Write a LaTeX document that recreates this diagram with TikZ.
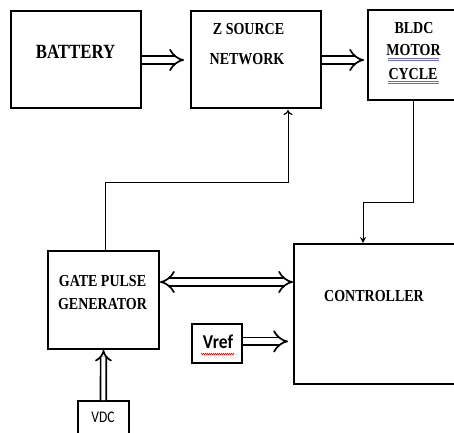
\documentclass[tikz,border=0pt]{standalone}
\usepackage{graphicx}
\usepackage{fontspec}
\setmainfont{Liberation Serif}
\newfontfamily\calib{Carlito}
\usetikzlibrary{arrows.meta,decorations.pathmorphing}
\tikzset{
 box/.style={draw, line width=2pt, anchor=north west, inner sep=0pt},
 lbl/.style={font=\bfseries\fontsize{14}{14}\selectfont, inner sep=0pt},
 conn/.style={line width=1pt},
 fat/.style={line width=1.7pt, double distance=6pt, -{Implies}},
 uline/.style={draw=blue!45!gray!80, line width=0.6pt},
}
\newcommand\vstr[1]{\scalebox{1}[1.2]{#1}}
\begin{document}
\begin{tikzpicture}[x=1pt,y=-1pt]
\clip (0,0) rectangle (454,432);
% boxes
\node[box,minimum width=130pt,minimum height=97pt] (bat) at (10,10) {};
\node[box,minimum width=130pt,minimum height=97pt] (zsrc) at (190,10) {};
\node[box,minimum width=100pt,minimum height=90pt] (bldc) at (367,9) {};
\node[box,minimum width=111pt,minimum height=98pt] (gate) at (47,250) {};
\node[box,minimum width=170pt,minimum height=140pt] (ctrl) at (293,243) {};
\node[box,line width=1.8pt,minimum width=50pt,minimum height=39pt] (vref) at (191,323) {};
\node[box,line width=1.8pt,minimum width=51pt,minimum height=50pt] (vdc) at (77,400) {};
% texts
\node[lbl,font=\bfseries\fontsize{16.8}{16.8}\selectfont] (batT) at (75.5,52) {\vstr{BATTERY}};
\node[lbl] (zT1) at (248.5,29.5) {\vstr{Z SOURCE}};
\node[lbl] (zT2) at (247,59) {\vstr{NETWORK}};
\node[lbl] (bT1) at (414,28) {\vstr{BLDC}};
\node[lbl] (bT2) at (413.5,50) {\vstr{MOTOR}};
\node[lbl] (bT3) at (413,74) {\vstr{CYCLE}};
\node[lbl] (gT1) at (102.5,281) {\vstr{GATE PULSE}};
\node[lbl] (gT2) at (102.5,304.5) {\vstr{GENERATOR}};
\node[lbl] (cT) at (374,296.5) {\vstr{CONTROLLER}};
\node[inner sep=0pt,font=\calib\bfseries\fontsize{17.5}{17.5}\selectfont] (vrefT) at (218,342) {\scalebox{1}[1.12]{Vref}};
\node[inner sep=0pt,font=\calib\fontsize{13.5}{13.5}\selectfont] (vdcT) at (103,417.5) {\vstr{VDC}};
% spell-check underlines
\draw[uline] (388,58.5) -- (439,58.5);
\draw[uline] (388,60.7) -- (439,60.7);
\draw[uline] (388,81) -- (439,81);
\draw[uline] (388,83.2) -- (439,83.2);
\draw[red, line width=0.5pt, decorate, decoration={zigzag, amplitude=0.7pt, segment length=2pt}] (201,354) -- (234,354);
% fat arrows
\coordinate (a) at (0,60);
\draw[fat, shorten >=6pt] (bat.east |- a) -- (zsrc.west |- a);
\draw[fat, shorten >=3pt] (zsrc.east |- a) -- (bldc.west |- a);
\coordinate (m) at (0,282);
\draw[fat, {Implies}-{Implies}] (gate.east |- m) -- (ctrl.west |- m);
\draw[fat, shorten >=5pt] ([yshift=2pt]vref.east) -- ([yshift=2pt]ctrl.west |- vref.east);
\draw[fat, double distance=4pt] (vdc.north) -- (gate.south);
% thin connectors
\coordinate (t0) at (105,182);
\coordinate (t1) at (288,182);
\draw[conn,-{To[length=5pt,width=9pt,line width=1.2pt]}] (t0 |- gate.north) -- (t0) -- (t1) -- ([yshift=-1pt]t1 |- zsrc.south);
\coordinate (b0) at (413,202);
\coordinate (b1) at (363,202);
\draw[conn,-{Stealth[length=6pt,width=6pt]}] (b0 |- bldc.south) -- (b0) -- (b1) -- (b1 |- ctrl.north);
\end{tikzpicture}
\end{document}
